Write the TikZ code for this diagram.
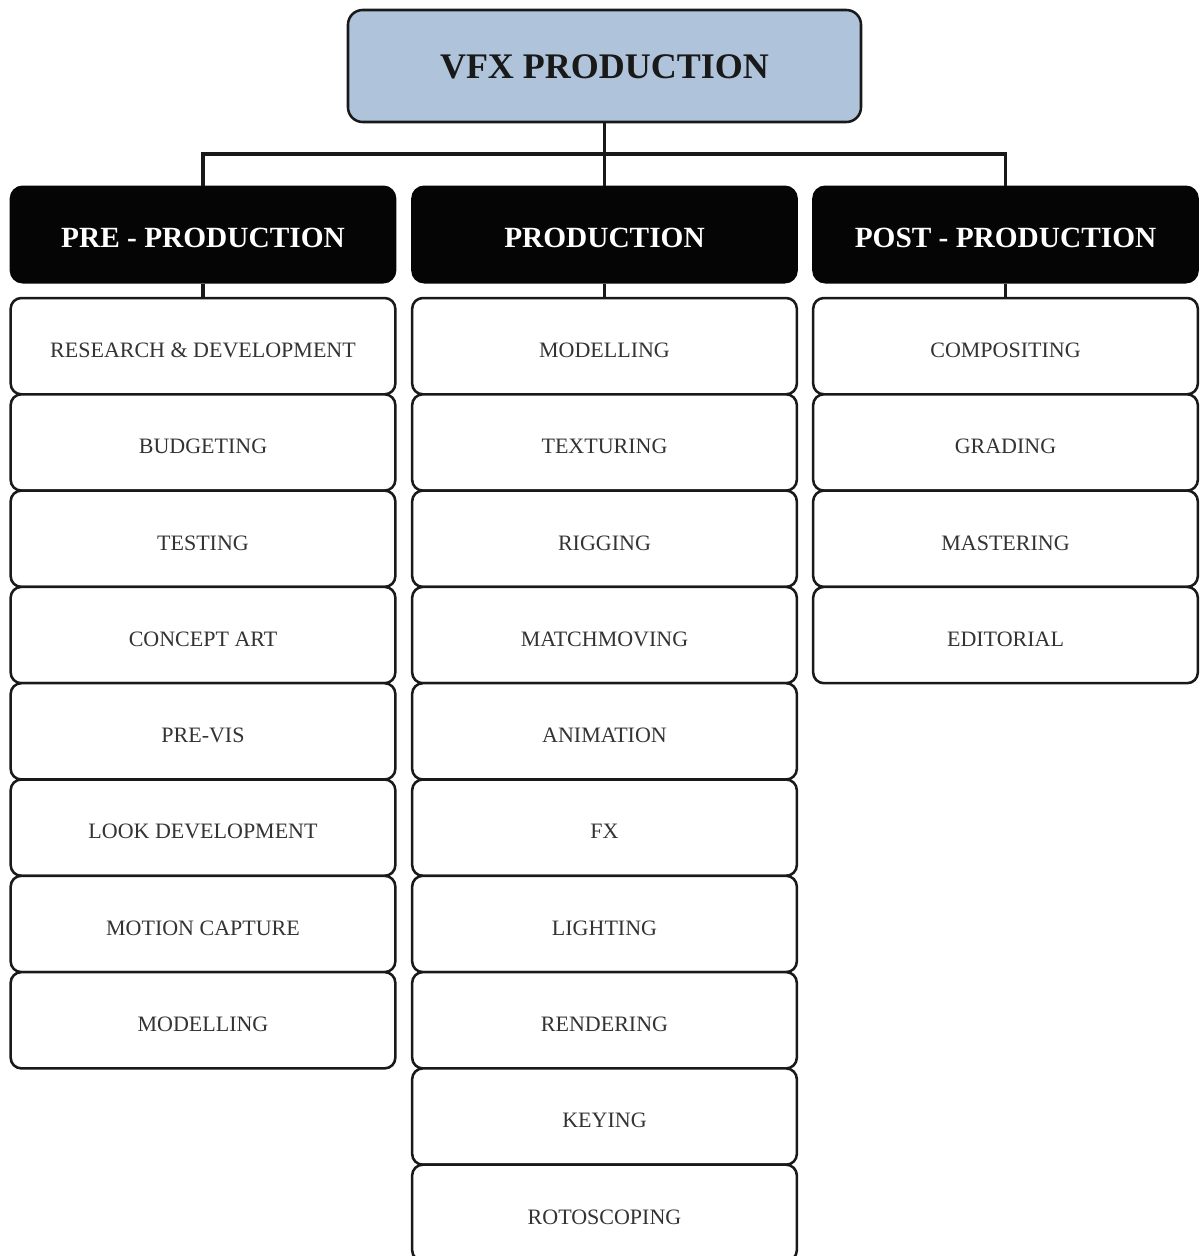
\documentclass[tikz,border=0pt]{standalone}
\usepackage{fontspec}
\setmainfont{Liberation Serif}
\definecolor{topfill}{HTML}{AFC4DA}
\definecolor{itemtext}{HTML}{333333}
\definecolor{hdrfill}{HTML}{050505}
\begin{document}
\begin{tikzpicture}[x=0.75pt,y=-0.75pt,
  topbox/.style={draw=black!90, line width=1.9pt, fill=topfill, rounded corners=11pt,
    minimum width=384.75pt, minimum height=84pt, inner sep=0pt,
    text height=19.4pt, text depth=0pt,
    font=\fontsize{27}{32}\selectfont\bfseries, text=black!90},
  hdrbox/.style={draw=hdrfill, line width=1.5pt, fill=hdrfill, rounded corners=9pt,
    minimum width=288.5pt, minimum height=72pt, inner sep=0pt,
    text height=18.9pt, text depth=0pt,
    font=\fontsize{22}{26}\selectfont\bfseries, text=white},
  itembox/.style={draw=black!90, line width=1.9pt, fill=white, rounded corners=8pt,
    minimum width=288.5pt, minimum height=72.2pt, inner sep=0pt,
    text height=16.9pt, text depth=0pt,
    font=\fontsize{16.5}{20}\selectfont, text=itemtext},
  conn/.style={draw=black!90, line width=2.3pt}]
\clip (0,0) rectangle (1203,1256);
\useasboundingbox (0,0) rectangle (1203,1256);

\node[topbox] (top) at (604.5,66) {VFX PRODUCTION};
\node[hdrbox] (pre) at (203,234.5) {PRE - PRODUCTION};
\node[hdrbox] (prod) at (604.5,234.5) {PRODUCTION};
\node[hdrbox] (post) at (1005.5,234.5) {POST - PRODUCTION};
\coordinate (j) at (604.5,154);

\draw[conn] (top.south) -- (j);
\draw[conn] (pre.north) -- (pre.north |- j) -- (post.north |- j) -- (post.north);
\draw[conn] (j) -- (prod.north);

% pre-production items
\foreach \t [count=\i from 0] in {RESEARCH \& DEVELOPMENT, BUDGETING, TESTING, CONCEPT ART, PRE-VIS, LOOK DEVELOPMENT, MOTION CAPTURE, MODELLING}{
  \node[itembox] (pre\i) at (203,346.15+96.3*\i) {\t};
}
% production items
\foreach \t [count=\i from 0] in {MODELLING, TEXTURING, RIGGING, MATCHMOVING, ANIMATION, FX, LIGHTING, RENDERING, KEYING, ROTOSCOPING}{
  \node[itembox] (prod\i) at (604.5,346.15+96.3*\i) {\t};
}
% post-production items
\foreach \t [count=\i from 0] in {COMPOSITING, GRADING, MASTERING, EDITORIAL}{
  \node[itembox] (post\i) at (1005.5,346.15+96.3*\i) {\t};
}

\draw[conn] (pre.south) -- (pre0.north);
\draw[conn] (prod.south) -- (prod0.north);
\draw[conn] (post.south) -- (post0.north);
\end{tikzpicture}
\end{document}
